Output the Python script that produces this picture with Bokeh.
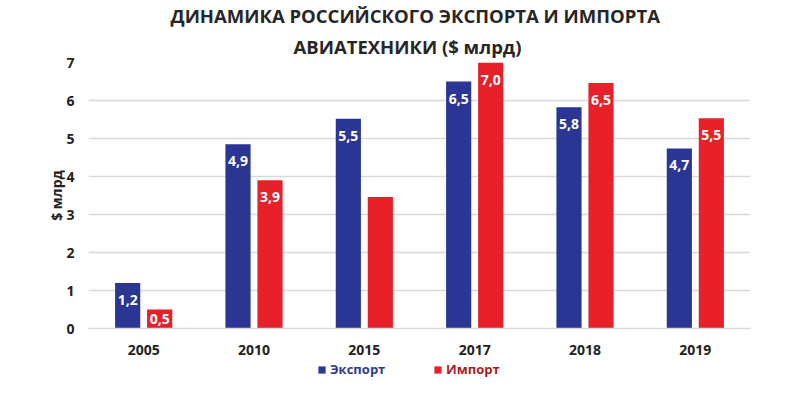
from bokeh.plotting import figure
from bokeh.models import ColumnDataSource, Legend, LegendItem, Title, FactorRange, Range1d
from bokeh.layouts import column
from bokeh.transform import dodge
from bokeh.embed import file_html
from bokeh.resources import INLINE
from bokeh.core.properties import value

years = ["2005", "2010", "2015", "2017", "2018", "2019"]
export_vals = [1.2, 4.85, 5.52, 6.5, 5.82, 4.74]
import_vals = [0.5, 3.9, 3.46, 7.0, 6.46, 5.53]
export_labels = ["1,2", "4,9", "5,5", "6,5", "5,8", "4,7"]
import_labels = ["0,5", "3,9", "", "7,0", "6,5", "5,5"]
y_ticks = [0, 1, 2, 3, 4, 5, 6, 7]
title_lines = ["ДИНАМИКА РОССИЙСКОГО ЭКСПОРТА И ИМПОРТА", "АВИАТЕХНИКИ ($ млрд)"]
series_names = ["Экспорт", "Импорт"]

BLUE = "#2B3593"
RED = "#E8202A"
FONT = "Open Sans"
TXT = "#222222"
INSET = 0.45  # label centre distance below bar top (data units), halved for short bars


def label_pos(vals):
    return [v - min(INSET, v / 2) for v in vals]


src = ColumnDataSource(dict(years=years, exp=export_vals, imp=import_vals,
                            exp_lbl=export_labels, imp_lbl=import_labels,
                            exp_y=label_pos(export_vals), imp_y=label_pos(import_vals)))

p = figure(x_range=FactorRange(*years), y_range=(0, 7), width=800, height=360,
           output_backend="svg", toolbar_location=None,
           min_border_left=88, min_border_right=50, min_border_bottom=32, min_border_top=12)
p.outline_line_color = None
p.x_range.range_padding = 0.0

t2 = Title(text=title_lines[1], align="left", text_font=FONT,
           text_font_size="18.5px", text_font_style="bold", text_color="#262626", offset=205,
           standoff=8)
t1 = Title(text=title_lines[0], align="left", text_font=FONT,
           text_font_size="18.5px", text_font_style="bold", text_color="#262626", offset=82,
           standoff=0)
p.add_layout(t2, "above")
p.add_layout(t1, "above")

r_exp = p.vbar(x=dodge("years", -0.145, range=p.x_range), top="exp", width=0.228,
               source=src, fill_color=BLUE, line_color=None)
r_imp = p.vbar(x=dodge("years", 0.145, range=p.x_range), top="imp", width=0.228,
               source=src, fill_color=RED, line_color=None)

for ycol, lbl, off in (("exp_y", "exp_lbl", -0.145), ("imp_y", "imp_lbl", 0.145)):
    p.text(x=dodge("years", off, range=p.x_range), y=ycol, text=lbl, source=src,
           text_color="white", text_font=value(FONT), text_font_size="14px",
           text_font_style="bold", text_align="center", text_baseline="middle")

p.xgrid.grid_line_color = None
p.ygrid.grid_line_color = "#D9D9D9"
p.ygrid.grid_line_width = 1.5
p.yaxis.ticker = y_ticks
p.yaxis.axis_line_color = None
p.yaxis.major_tick_line_color = None
p.yaxis.minor_tick_line_color = None
p.yaxis.major_label_text_font = FONT
p.yaxis.major_label_text_font_style = "bold"
p.yaxis.major_label_text_font_size = "14px"
p.yaxis.major_label_text_color = TXT
p.yaxis.major_label_standoff = 8
p.yaxis.axis_label = "$ млрд"
p.yaxis.axis_label_text_font = FONT
p.yaxis.axis_label_text_font_style = "bold"
p.yaxis.axis_label_text_font_size = "14px"
p.yaxis.axis_label_text_color = TXT
p.yaxis.axis_label_standoff = -3

p.xaxis.axis_line_color = "#D9D9D9"
p.xaxis.axis_line_width = 1.5
p.xaxis.major_tick_line_color = None
p.xaxis.minor_tick_line_color = None
p.xaxis.major_label_text_font = FONT
p.xaxis.major_label_text_font_style = "bold"
p.xaxis.major_label_text_font_size = "14px"
p.xaxis.major_label_text_color = TXT
p.xaxis.major_label_standoff = 10

# legend strip (zero-size placeholder glyphs only carry the legend swatch styles)
lf = figure(width=800, height=36, output_backend="svg", toolbar_location=None,
            x_range=Range1d(0, 1), y_range=Range1d(0, 1),
            x_axis_location=None, y_axis_location=None, min_border=0)
lf.outline_line_color = None
lf.grid.grid_line_color = None
dummy = ColumnDataSource(dict(x=[0.0], top=[0.0]))
le = lf.vbar(x="x", top="top", bottom="top", width=0.0, source=dummy,
             fill_color=BLUE, line_color=None)
li = lf.vbar(x="x", top="top", bottom="top", width=0.0, source=dummy,
             fill_color=RED, line_color=None)

for rend, name, loc, col in ((le, series_names[0], (229, 18), "#2E3A8C"),
                             (li, series_names[1], (345, 18), "#A51D24")):
    lg = Legend(items=[LegendItem(label=name, renderers=[rend])], location=loc,
                orientation="horizontal", padding=0, margin=0, border_line_color=None,
                background_fill_alpha=0, glyph_width=9, glyph_height=9, label_standoff=4,
                label_text_font=FONT, label_text_font_style="bold",
                label_text_font_size="13px", label_text_color=col)
    lf.add_layout(lg, "center")

open("out.html", "w").write(file_html(column(p, lf, spacing=0), INLINE))
